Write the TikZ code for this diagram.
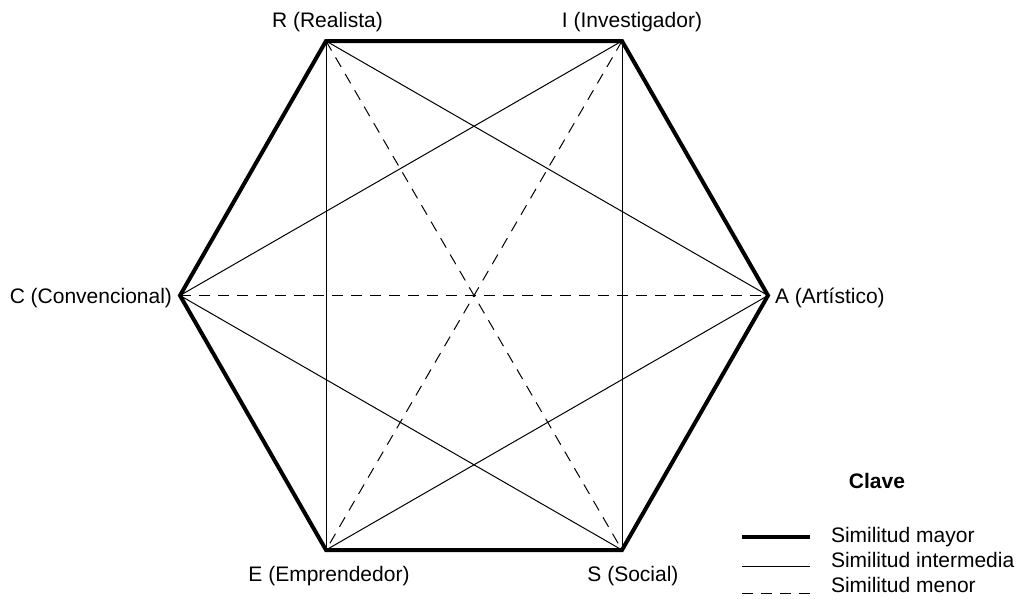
\documentclass[tikz,border=0pt]{standalone}
\usepackage{fontspec}
\setmainfont{Liberation Sans}
\begin{document}
\begin{tikzpicture}[x=1pt,y=-1pt,
  every node/.style={inner sep=0pt,outer sep=0pt,font=\fontsize{21}{24}\selectfont},
  major/.style={line width=4pt,line join=miter,line cap=butt},
  inter/.style={line width=1pt},
  minor/.style={line width=1pt,dash pattern=on 11pt off 8pt},
  lbl/.style={anchor=base}]
\useasboundingbox (0,0) rectangle (1023,598);
% vertices
\coordinate (R) at (326,41);
\coordinate (I) at (622,41);
\coordinate (A) at (768,295.5);
\coordinate (S) at (622,550);
\coordinate (E) at (326,550);
\coordinate (C) at (180,295.5);
% labels
\node[lbl] (lR) at (327.5,27) {R (Realista)};
\node[lbl] (lI) at (632,27) {I (Investigador)};
\node[anchor=base east] (lC) at (172,303) {C (Convencional)};
\node[anchor=base west] (lA) at (775,303) {A (Artístico)};
\node[lbl] (lE) at (329,581) {E (Emprendedor)};
\node[lbl] (lS) at (633,581) {S (Social)};
% intermediate similarity
\draw[inter] (R) -- (A);
\draw[inter] (R) -- (E);
\draw[inter] (I) -- (S);
\draw[inter] (I) -- (C);
\draw[inter] (A) -- (E);
\draw[inter] (S) -- (C);
% minor similarity
\draw[minor] (R) -- (S);
\draw[minor] (I) -- (E);
\draw[minor] (C) -- (A);
% major similarity (hexagon)
\draw[major] (R) -- (I) -- (A) -- (S) -- (E) -- (C) -- cycle;
% legend
\node[anchor=base,font=\fontsize{21}{24}\selectfont\bfseries] (key) at (877,488) {Clave};
\coordinate (k1a) at (742,537); \coordinate (k1b) at (810,537);
\coordinate (k2a) at (742,566); \coordinate (k2b) at (810,566);
\coordinate (k3a) at (742,593); \coordinate (k3b) at (810,593);
\draw[major] (k1a) -- (k1b);
\draw[inter] (k2a) -- (k2b);
\draw[minor] (k3a) -- (k3b);
\node[anchor=base west] (t1) at (831,542) {Similitud mayor};
\node[anchor=base west] (t2) at (831,567) {Similitud intermedia};
\node[anchor=base west] (t3) at (831,592) {Similitud menor};
\end{tikzpicture}
\end{document}
